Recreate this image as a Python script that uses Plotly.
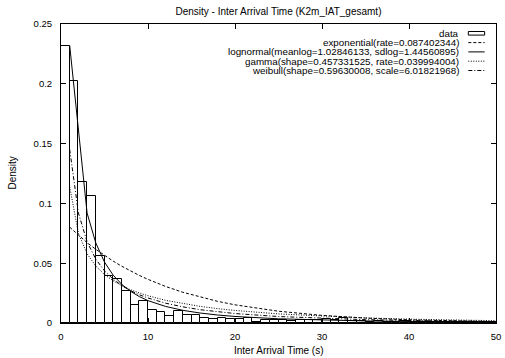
import plotly.graph_objects as go

# ---------------- data ----------------
bin_starts = list(range(0, 50))
hist_density = [0.232, 0.202, 0.1175, 0.106, 0.056, 0.039, 0.037, 0.027, 0.0153, 0.0186,
                0.011, 0.0089, 0.0058, 0.0100, 0.0067, 0.0067, 0.0044, 0.0030, 0.0044, 0.0033,
                0.0030, 0.0044, 0.0011, 0.0022, 0.0028, 0.0028, 0.0017, 0.0022, 0.0022, 0.0022,
                0.0033, 0.0025, 0.0045, 0.0017, 0.0020, 0.0012, 0.0015, 0.0010, 0.0012, 0.0020,
                0.0010, 0.0008, 0.0008, 0.0010, 0.0006, 0.0008, 0.0006, 0.0005, 0.0006, 0.0005]

curve_x = [1, 2, 3, 4, 5, 6, 7, 8, 9, 10, 12, 14, 16, 18, 20, 25, 30, 35, 40, 45, 50]
exponential_y = [0.0801, 0.0734, 0.0672, 0.0616, 0.0565, 0.0517, 0.0474, 0.0434, 0.0398, 0.0365,
                 0.0306, 0.0257, 0.0216, 0.0181, 0.0152, 0.00984, 0.00637, 0.00412, 0.00266,
                 0.00172, 0.00111]
lognormal_y = [0.232, 0.163, 0.0919, 0.0669, 0.0509, 0.0400, 0.0322, 0.0265, 0.0221, 0.0187,
               0.0139, 0.0106, 0.00833, 0.00669, 0.00547, 0.0035, 0.00239, 0.00171, 0.00127,
               0.00097, 0.00076]
gamma_y = [0.1139, 0.0751, 0.0579, 0.0476, 0.0405, 0.0353, 0.0312, 0.0278, 0.0251, 0.0228,
           0.0190, 0.0162, 0.0139, 0.0120, 0.0105, 0.0076, 0.00564, 0.00424, 0.00323,
           0.00248, 0.00192]
weibull_y = [0.1451, 0.0921, 0.0678, 0.0534, 0.0436, 0.0366, 0.0312, 0.0270, 0.0236, 0.0209,
             0.0166, 0.0135, 0.0111, 0.0093, 0.0079, 0.0054, 0.0038, 0.0028, 0.0021,
             0.0016, 0.0012]

x_ticks = [0, 10, 20, 30, 40, 50]
y_ticks = [0, 0.05, 0.1, 0.15, 0.2, 0.25]
y_tick_labels = ["0", "0.05", "0.1", "0.15", "0.2", "0.25"]

legend_labels = ["data",
                 "exponential(rate=0.087402344)",
                 "lognormal(meanlog=1.02846133, sdlog=1.44560895)",
                 "gamma(shape=0.457331525, rate=0.039994004)",
                 "weibull(shape=0.59630008, scale=6.01821968)"]

title_text = "Density - Inter Arrival Time (K2m_IAT_gesamt)"
x_title = "Inter Arrival Time (s)"
y_title = "Density"

# ---------------- figure ----------------
FONT = "Liberation Sans, Arial, Helvetica, sans-serif"
W, H = 505, 358
ML, MR, MT, MB = 61, 4, 24, 35
PW, PH = W - ML - MR, H - MT - MB

fig = go.Figure()

fig.add_trace(go.Bar(
    x=[b + 0.5 for b in bin_starts], y=hist_density, width=1,
    marker=dict(color="white", line=dict(color="black", width=1)),
    showlegend=False, hoverinfo="skip"))

styles = [
    (exponential_y, "3px,2px", 1.0),
    (lognormal_y, "solid", 1.0),
    (gamma_y, "1px,1.5px", 1.0),
    (weibull_y, "4px,2px,1px,2px", 1.0),
]
for ys, dash, w in styles:
    fig.add_trace(go.Scatter(x=curve_x, y=ys, mode="lines",
                             line=dict(color="black", width=w, dash=dash),
                             showlegend=False, hoverinfo="skip"))

axis_common = dict(showline=True, linecolor="black", linewidth=1, mirror="allticks",
                   ticks="inside", ticklen=5, tickcolor="black", tickwidth=1,
                   showgrid=False, zeroline=False, ticklabeloverflow="allow",
                   tickfont=dict(family=FONT, size=9.5, color="black"))

fig.update_xaxes(range=[0, 50], tickvals=x_ticks, ticklabelstandoff=5, **axis_common)
fig.update_yaxes(range=[0, 0.25], tickvals=y_ticks, ticktext=y_tick_labels,
                 ticklabelstandoff=6, **axis_common)

# manual legend (paper coordinates from pixel positions)
def px2paper_x(px):
    return (px - ML) / PW

def px2paper_y(py):
    return (H - MB - py) / PH

rows_py = [33.3, 42.6, 51.9, 61.2, 70.5]
text_right = 465
s0, s1 = 473, 489.5
annotations = []
shapes = []
for lab, py in zip(legend_labels, rows_py):
    annotations.append(dict(x=px2paper_x(text_right), y=px2paper_y(py), xref="paper", yref="paper",
                            text=lab, showarrow=False, xanchor="right", yanchor="middle",
                            borderpad=0,
                            font=dict(family=FONT, size=9.8, color="black")))
# data sample box
shapes.append(dict(type="rect", xref="paper", yref="paper",
                   x0=px2paper_x(s0), x1=px2paper_x(s1),
                   y0=px2paper_y(rows_py[0] - 1.8), y1=px2paper_y(rows_py[0] + 1.8),
                   line=dict(color="black", width=1), fillcolor="white"))
for (ys, dash, w), py in zip(styles, rows_py[1:]):
    shapes.append(dict(type="line", xref="paper", yref="paper",
                       x0=px2paper_x(s0), x1=px2paper_x(s1),
                       y0=px2paper_y(py), y1=px2paper_y(py),
                       line=dict(color="black", width=w, dash=dash)))

annotations.append(dict(x=0.5, y=0, xref="paper", yref="paper", text=x_title,
                        showarrow=False, xanchor="center", yanchor="middle", yshift=-27,
                        font=dict(family=FONT, size=10, color="black")))
annotations.append(dict(x=0, y=0.5, xref="paper", yref="paper", text=y_title,
                        showarrow=False, xanchor="center", yanchor="middle", xshift=-49,
                        textangle=-90, font=dict(family=FONT, size=10, color="black")))

fig.update_layout(
    width=W, height=H,
    margin=dict(l=ML, r=MR, t=MT, b=MB),
    paper_bgcolor="white", plot_bgcolor="white",
    title=dict(text=title_text, x=0.5, xref="paper", y=1 - 11 / H, yref="container",
               xanchor="center", yanchor="middle",
               font=dict(family=FONT, size=10, color="black")),
    bargap=0,
    showlegend=False,
    annotations=annotations,
    shapes=shapes,
)

fig.write_html("out.html", config={"displayModeBar": False},
               post_script="document.body.style.margin='0';document.body.style.overflow='hidden';")
